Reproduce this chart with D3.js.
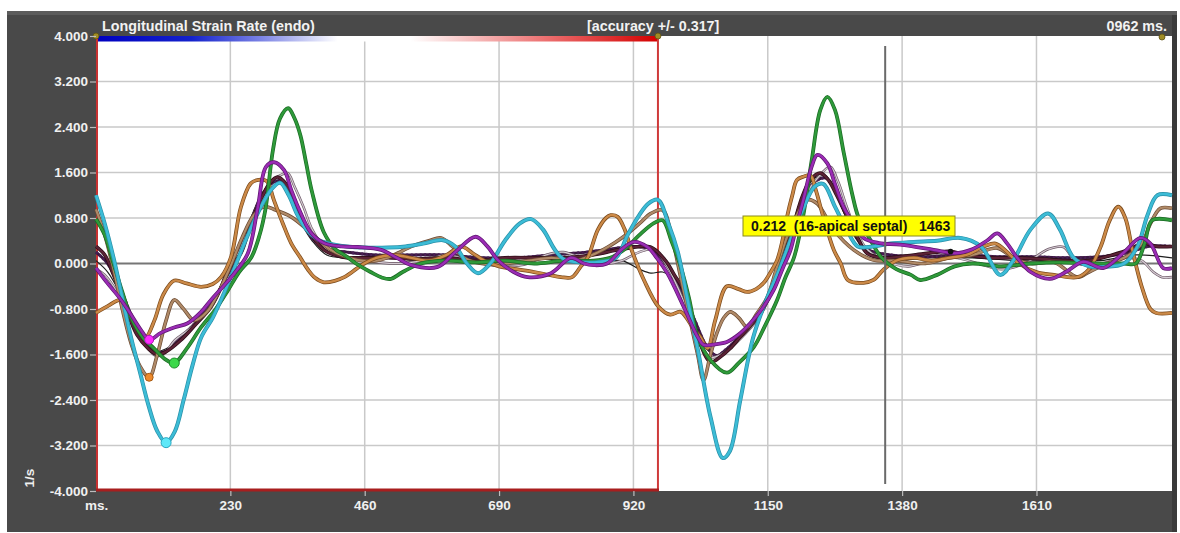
<!DOCTYPE html>
<html>
<head>
<meta charset="utf-8">
<script src="https://cdn.jsdelivr.net/npm/d3@7/dist/d3.min.js"></script>
<style>
  html, body { margin: 0; padding: 0; background: #ffffff; }
  svg { display: block; }
</style>
</head>
<body>
<svg id="chart" width="1180" height="533"></svg>
<script>
// ---- axis ticks ----
const xTicks = [0, 230, 460, 690, 920, 1150, 1380, 1610];
const yTicks = [4, 3.2, 2.4, 1.6, 0.8, 0, -0.8, -1.6, -2.4, -3.2, -4];

// ---- header texts ----
const titleText = "Longitudinal Strain Rate (endo)";
const accuracyText = "[accuracy +/- 0.317]";
const cycleText = "0962 ms.";
const unitText = "1/s";

// ---- cycle / cursor ----
const cycleMs = 962;
const cursorMs = 1351;
const cursorLabel = { value: 0.212, segment: "16-apical septal", ms: 1463 };

// ---- segment traces: [ms, 1/s] ----
const cyanPts = [[0,1.2],[15,0.7],[30,0.1],[45,-0.6],[60,-1.3],[75,-1.9],[90,-2.5],[105,-2.95],[120,-3.15],[135,-2.95],[150,-2.4],[165,-1.8],[180,-1.3],[200,-0.95],[220,-0.5],[240,0.0],[260,0.5],[280,0.95],[300,1.3],[315,1.42],[330,1.2],[345,0.85],[360,0.6],[380,0.42],[400,0.35],[430,0.3],[460,0.28],[500,0.28],[530,0.3],[560,0.35],[594,0.41],[615,0.3],[635,0.0],[654,-0.17],[675,0.0],[700,0.4],[725,0.7],[745,0.78],[765,0.6],[785,0.25],[800,0.08],[830,0.02],[864,0.03],[890,0.1],[910,0.5],[930,0.85],[945,1.05],[962,1.12],[980,0.7],[996,0.2],[1012,-0.6],[1030,-1.5],[1052,-2.7],[1073,-3.42],[1085,-3.3],[1103,-2.4],[1125,-1.3],[1149,-0.6],[1170,-0.1],[1190,0.45],[1210,0.95],[1230,1.35],[1245,1.4],[1265,1.0],[1285,0.6],[1304,0.3],[1330,0.3],[1360,0.35],[1400,0.38],[1440,0.4],[1480,0.45],[1515,0.3],[1548,-0.2],[1570,0.05],[1600,0.6],[1630,0.88],[1650,0.6],[1673,0.11],[1700,-0.05],[1724,-0.06],[1760,0.0],[1783,0.3],[1800,0.85],[1817,1.2],[1842,1.2]];

const greenPts = [[0,0.78],[15,0.5],[30,0.0],[45,-0.5],[60,-0.95],[80,-1.3],[100,-1.5],[118,-1.68],[134,-1.75],[155,-1.5],[180,-1.12],[205,-0.8],[226,-0.47],[245,-0.15],[266,0.11],[280,0.5],[290,0.95],[303,2.0],[315,2.55],[329,2.73],[340,2.55],[350,2.25],[360,1.75],[370,1.25],[390,0.55],[410,0.25],[425,0.15],[445,0.0],[470,-0.15],[490,-0.25],[505,-0.27],[525,-0.15],[556,0.0],[600,0.05],[650,0.02],[700,0.05],[750,0.0],[800,0.05],[850,0.05],[880,0.1],[905,0.25],[930,0.5],[955,0.71],[970,0.76],[985,0.4],[1001,-0.06],[1015,-0.6],[1030,-1.29],[1052,-1.7],[1080,-1.92],[1100,-1.75],[1126,-1.47],[1145,-1.1],[1166,-0.64],[1180,-0.25],[1195,0.11],[1210,0.8],[1225,1.8],[1240,2.7],[1252,2.93],[1265,2.7],[1280,1.95],[1295,1.2],[1305,0.82],[1326,0.41],[1345,0.1],[1370,-0.1],[1395,-0.2],[1411,-0.29],[1440,-0.2],[1470,-0.05],[1500,0.0],[1550,-0.05],[1600,0.0],[1650,0.02],[1700,0.0],[1760,0.0],[1780,0.0],[1795,0.35],[1808,0.76],[1842,0.76]];

const purplePts = [[0,-0.08],[20,-0.35],[40,-0.6],[55,-0.82],[77,-1.17],[91,-1.34],[111,-1.22],[135,-1.12],[157,-1.05],[180,-0.85],[197,-0.64],[218,-0.4],[237,-0.17],[260,0.18],[277,0.99],[291,1.7],[305,1.78],[322,1.64],[334,1.3],[346,0.99],[368,0.54],[390,0.36],[420,0.3],[448,0.29],[488,0.24],[515,0.1],[540,-0.03],[585,-0.06],[615,0.2],[650,0.47],[670,0.3],[688,0.06],[715,-0.15],[739,-0.24],[779,-0.17],[813,0.1],[835,0.0],[853,-0.03],[875,0.0],[900,0.25],[921,0.38],[944,0.29],[960,0.1],[978,-0.17],[1006,-0.76],[1030,-1.29],[1040,-1.43],[1060,-1.42],[1080,-1.38],[1100,-1.25],[1120,-1.05],[1140,-0.8],[1160,-0.47],[1175,-0.1],[1189,0.24],[1200,0.7],[1211,1.12],[1225,1.7],[1235,1.91],[1252,1.76],[1265,1.4],[1280,0.99],[1297,0.7],[1314,0.45],[1340,0.36],[1377,0.33],[1434,0.24],[1470,0.18],[1500,0.25],[1525,0.4],[1543,0.53],[1560,0.35],[1577,0.1],[1600,-0.15],[1633,-0.27],[1660,-0.15],[1690,0.03],[1724,-0.08],[1758,0.18],[1788,0.45],[1805,0.35],[1827,-0.08],[1842,-0.08]];

const tanPts = [[0,-0.87],[20,-0.75],[43,-0.64],[60,-0.95],[75,-1.2],[85,-1.3],[100,-1.0],[115,-0.55],[134,-0.3],[155,-0.35],[180,-0.41],[200,-0.36],[214,-0.24],[231,0.11],[248,0.99],[265,1.41],[278,1.47],[292,1.45],[305,1.1],[320,0.7],[334,0.36],[350,0.1],[363,-0.11],[375,-0.25],[390,-0.33],[410,-0.3],[425,-0.24],[445,-0.1],[459,0.0],[480,0.1],[510,0.15],[540,0.1],[570,0.05],[600,0.15],[625,0.3],[645,0.18],[665,0.05],[690,-0.05],[720,-0.1],[750,-0.15],[775,-0.2],[796,-0.24],[815,-0.24],[830,-0.05],[842,0.11],[859,0.59],[873,0.8],[881,0.85],[893,0.82],[905,0.6],[915,0.29],[938,-0.29],[963,-0.76],[983,-0.9],[1001,-0.85],[1020,-1.1],[1035,-1.3],[1047,-1.49],[1060,-1.0],[1080,-0.4],[1100,-0.45],[1115,-0.5],[1130,-0.45],[1143,-0.34],[1155,-0.15],[1166,0.06],[1175,0.4],[1183,0.82],[1192,1.2],[1200,1.47],[1212,1.53],[1223,1.55],[1232,1.3],[1245,0.82],[1263,0.24],[1275,0.0],[1287,-0.29],[1314,-0.34],[1331,-0.29],[1348,-0.11],[1370,0.05],[1400,0.1],[1430,0.05],[1460,0.1],[1490,0.15],[1520,0.3],[1540,0.35],[1560,0.2],[1580,0.0],[1610,-0.15],[1640,-0.2],[1680,-0.24],[1700,-0.1],[1720,0.3],[1735,0.75],[1750,1.0],[1762,0.8],[1775,0.2],[1790,-0.4],[1805,-0.8],[1815,-0.87],[1842,-0.87]];

const brownPts = [[0,0.95],[15,0.5],[30,-0.1],[45,-0.8],[60,-1.4],[75,-1.8],[91,-2.0],[105,-1.6],[120,-1.0],[134,-0.64],[150,-0.8],[168,-1.0],[190,-0.85],[210,-0.5],[230,-0.05],[250,0.45],[270,0.85],[288,1.0],[305,0.95],[334,0.82],[368,0.54],[402,0.24],[448,0.06],[480,0.05],[510,0.15],[540,0.3],[570,0.4],[591,0.45],[610,0.3],[630,0.1],[660,0.0],[700,0.0],[740,0.05],[780,0.1],[820,0.05],[860,0.2],[900,0.45],[930,0.7],[950,0.88],[970,0.94],[985,0.5],[1000,-0.2],[1015,-0.9],[1030,-1.6],[1040,-2.05],[1052,-1.6],[1063,-1.22],[1075,-0.95],[1086,-0.85],[1100,-0.95],[1115,-1.12],[1130,-0.9],[1149,-0.6],[1166,-0.05],[1183,0.47],[1200,0.85],[1218,1.12],[1235,1.05],[1263,0.59],[1297,0.24],[1331,0.06],[1370,0.05],[1420,0.0],[1460,0.1],[1500,0.15],[1543,0.27],[1570,0.1],[1600,0.0],[1640,0.02],[1680,-0.24],[1700,-0.15],[1730,0.0],[1760,0.1],[1790,0.35],[1805,0.7],[1822,0.97],[1842,0.97]];

const maroonPts = [[0,0.3],[15,0.15],[30,-0.2],[50,-0.75],[70,-1.25],[90,-1.5],[105,-1.6],[120,-1.55],[145,-1.35],[168,-1.1],[197,-0.76],[215,-0.4],[226,-0.11],[248,0.18],[265,0.7],[282,1.12],[298,1.42],[311,1.52],[325,1.4],[338,1.1],[352,0.8],[368,0.52],[390,0.24],[419,0.12],[450,0.1],[500,0.1],[550,0.08],[600,0.1],[650,0.05],[700,0.1],[750,0.1],[800,0.1],[850,0.15],[900,0.25],[949,0.29],[975,0.05],[990,-0.2],[1006,-0.47],[1030,-1.29],[1052,-1.73],[1069,-1.64],[1085,-1.5],[1103,-1.29],[1120,-1.1],[1138,-0.87],[1155,-0.5],[1172,-0.06],[1195,0.71],[1210,1.2],[1223,1.47],[1240,1.59],[1255,1.45],[1268,1.2],[1280,0.95],[1304,0.45],[1320,0.18],[1348,0.1],[1400,0.15],[1440,0.2],[1463,0.212],[1490,0.15],[1530,0.1],[1570,0.1],[1620,0.08],[1660,0.05],[1700,0.05],[1740,0.15],[1770,0.25],[1793,0.36],[1815,0.3],[1842,0.3]];

const mauvePts = [[0,-0.1],[15,-0.2],[30,-0.4],[50,-0.75],[70,-1.2],[90,-1.5],[102,-1.62],[115,-1.6],[135,-1.35],[160,-1.15],[185,-0.9],[205,-0.6],[225,-0.15],[245,0.2],[262,0.65],[280,1.1],[300,1.45],[315,1.55],[328,1.59],[340,1.35],[355,1.0],[370,0.6],[390,0.3],[420,0.12],[460,0.05],[510,0.0],[560,0.05],[600,0.15],[625,0.1],[660,0.0],[700,-0.05],[740,0.0],[770,0.15],[800,0.2],[830,0.1],[870,0.0],[900,0.05],[930,0.2],[955,0.25],[975,0.0],[995,-0.4],[1015,-0.9],[1035,-1.45],[1052,-1.65],[1070,-1.6],[1090,-1.45],[1110,-1.25],[1135,-0.95],[1155,-0.55],[1175,0.0],[1195,0.6],[1215,1.2],[1235,1.5],[1257,1.7],[1270,1.45],[1285,1.0],[1300,0.6],[1320,0.25],[1350,0.05],[1390,-0.05],[1430,0.05],[1470,0.1],[1510,0.0],[1550,-0.1],[1590,0.0],[1630,0.25],[1656,0.29],[1680,0.0],[1720,0.0],[1760,0.1],[1790,0.05],[1810,-0.15],[1825,-0.24],[1842,-0.24]];

const blackPts = [[0,0.05],[20,-0.15],[40,-0.5],[60,-0.95],[80,-1.35],[100,-1.55],[120,-1.5],[145,-1.3],[170,-1.05],[200,-0.7],[222,-0.2],[245,0.25],[265,0.8],[285,1.25],[305,1.45],[320,1.4],[335,1.1],[352,0.7],[370,0.4],[395,0.15],[430,0.1],[500,0.1],[560,0.05],[620,0.1],[680,0.05],[740,0.1],[800,0.05],[850,0.0],[900,0.05],[930,-0.1],[950,-0.17],[970,-0.15],[990,-0.3],[1010,-0.7],[1030,-1.25],[1050,-1.55],[1070,-1.6],[1095,-1.4],[1120,-1.05],[1145,-0.75],[1165,-0.2],[1190,0.6],[1210,1.2],[1230,1.5],[1248,1.55],[1262,1.35],[1280,0.9],[1300,0.45],[1325,0.15],[1360,0.05],[1420,0.1],[1500,0.1],[1580,0.05],[1660,0.05],[1720,0.05],[1780,0.15],[1842,0.1]];

const plumPts = [[0,0.2],[20,0.0],[40,-0.4],[60,-0.9],[80,-1.3],[100,-1.55],[118,-1.55],[140,-1.35],[165,-1.1],[195,-0.75],[220,-0.3],[245,0.2],[265,0.75],[285,1.2],[302,1.42],[318,1.45],[332,1.2],[350,0.8],[370,0.45],[395,0.25],[430,0.2],[480,0.15],[540,0.15],[600,0.15],[660,0.1],[720,0.1],[780,0.15],[840,0.2],[880,0.25],[920,0.3],[950,0.25],[975,0.0],[1000,-0.4],[1025,-1.0],[1045,-1.45],[1062,-1.62],[1080,-1.5],[1100,-1.3],[1125,-1.0],[1150,-0.65],[1170,-0.1],[1192,0.55],[1212,1.15],[1232,1.45],[1250,1.5],[1265,1.3],[1282,0.9],[1300,0.5],[1320,0.25],[1360,0.15],[1420,0.12],[1480,0.15],[1540,0.12],[1600,0.12],[1660,0.1],[1720,0.12],[1770,0.2],[1800,0.3],[1842,0.3]];

// ---- marked extremes (series key, time) ----
const extremeMarks = [
  { key: "brown", ms: 91 },
  { key: "purple", ms: 91 },
  { key: "cyan", ms: 120 },
  { key: "green", ms: 134 }
];

// ---- drawing ----
const plot = { left: 96, right: 1172, top: 36, bottom: 491 };

const svg = d3.select("#chart");
const fontFamily = "'Liberation Sans', Arial, sans-serif";

const x = d3.scaleLinear().domain([0, 1842]).range([plot.left, plot.right]);
const y = d3.scaleLinear().domain([-4, 4]).range([plot.bottom, plot.top]);

// dark frame
svg.append("rect").attr("x", 7).attr("y", 11).attr("width", 1170).attr("height", 521).attr("fill", "#494949");
svg.append("rect").attr("x", 7).attr("y", 11).attr("width", 1170).attr("height", 4).attr("fill", "#5c5c5c");
svg.append("rect").attr("x", plot.right).attr("y", 15).attr("width", 5).attr("height", 517).attr("fill", "#3a3a3a");

// plot background
svg.append("rect")
  .attr("x", plot.left).attr("y", plot.top)
  .attr("width", plot.right - plot.left).attr("height", plot.bottom - plot.top)
  .attr("fill", "#ffffff");

// grid
const grid = svg.append("g");
grid.selectAll("line.v").data(xTicks.filter(d => d > 0)).join("line")
  .attr("x1", d => x(d)).attr("x2", d => x(d))
  .attr("y1", plot.top).attr("y2", plot.bottom)
  .attr("stroke", "#c9c9c9").attr("stroke-width", 1.5);
grid.selectAll("line.h").data(yTicks.filter(d => Math.abs(d) < 4 && d !== 0)).join("line")
  .attr("x1", plot.left).attr("x2", plot.right)
  .attr("y1", d => y(d)).attr("y2", d => y(d))
  .attr("stroke", "#c9c9c9").attr("stroke-width", 1.5);
grid.append("line")
  .attr("x1", plot.left).attr("x2", plot.right)
  .attr("y1", y(0)).attr("y2", y(0))
  .attr("stroke", "#767676").attr("stroke-width", 2);

// cycle gradient bar
const defs = svg.append("defs");
const grad = defs.append("linearGradient").attr("id", "cycleGrad").attr("x1", "0%").attr("x2", "100%");
grad.append("stop").attr("offset", "0%").attr("stop-color", "#0000c0");
grad.append("stop").attr("offset", "17%").attr("stop-color", "#1422cc");
grad.append("stop").attr("offset", "29%").attr("stop-color", "#7880e4");
grad.append("stop").attr("offset", "43%").attr("stop-color", "#ffffff");
grad.append("stop").attr("offset", "56%").attr("stop-color", "#ffffff");
grad.append("stop").attr("offset", "80%").attr("stop-color", "#ec7070");
grad.append("stop").attr("offset", "100%").attr("stop-color", "#d40000");
svg.append("rect")
  .attr("x", x(0)).attr("y", plot.top)
  .attr("width", x(cycleMs) - x(0)).attr("height", 5.5)
  .attr("fill", "url(#cycleGrad)");

// cycle box
svg.append("line").attr("x1", x(0) + 1).attr("x2", x(0) + 1).attr("y1", plot.top).attr("y2", plot.bottom)
  .attr("stroke", "#c83232").attr("stroke-width", 2);
svg.append("line").attr("x1", x(cycleMs)).attr("x2", x(cycleMs)).attr("y1", plot.top + 3).attr("y2", plot.bottom)
  .attr("stroke", "#cf3a3a").attr("stroke-width", 2);
svg.append("line").attr("x1", x(0)).attr("x2", x(cycleMs) + 1).attr("y1", plot.bottom - 1).attr("y2", plot.bottom - 1)
  .attr("stroke", "#a81e1e").attr("stroke-width", 3);

// traces
const seriesStyle = [
  { key: "black",  pts: blackPts,  edge: null,      color: "#1e1e1e", width: 1.2 },
  { key: "plum",   pts: plumPts,   edge: "#3a1840", color: "#7a3c86", width: 1.6, dash: "2,2.5" },
  { key: "mauve",  pts: mauvePts,  edge: "#6e5a68", color: "#d6cdd4", width: 1.2 },
  { key: "maroon", pts: maroonPts, edge: "#2a0c14", color: "#5c2236", width: 2.2 },
  { key: "brown",  pts: brownPts,  edge: "#6a4a32", color: "#b08a68", width: 2.2 },
  { key: "tan",    pts: tanPts,    edge: "#7a4a1c", color: "#cc8a48", width: 2.4 },
  { key: "green",  pts: greenPts,  edge: "#1a6a24", color: "#2f9a3a", width: 2.4 },
  { key: "cyan",   pts: cyanPts,   edge: "#2a90a8", color: "#3cbcd6", width: 2.6 },
  { key: "purple", pts: purplePts, edge: "#5e1670", color: "#9a2cb4", width: 2.4 }
];
const lineGen = d3.line().x(d => x(d[0])).y(d => y(d[1])).curve(d3.curveCatmullRom.alpha(0.5));
const traces = svg.append("g");
seriesStyle.forEach(s => {
  if (s.edge) {
    traces.append("path").attr("d", lineGen(s.pts)).attr("fill", "none")
      .attr("stroke", s.edge).attr("stroke-width", s.width + 1.4).attr("stroke-linejoin", "round");
  }
  const p = traces.append("path").attr("d", lineGen(s.pts)).attr("fill", "none")
    .attr("stroke", s.color).attr("stroke-width", s.width).attr("stroke-linejoin", "round");
  if (s.dash) p.attr("stroke-dasharray", s.dash).attr("stroke-width", s.width + 1.4).attr("stroke", "#4a1e54");
});

// marked extremes
const markStyle = {
  brown:  { fill: "#ee8a2c", stroke: "#a85a10", r: 4 },
  purple: { fill: "#ff2cff", stroke: "#a818b0", r: 4.5 },
  cyan:   { fill: "#5ee8f8", stroke: "#2aa6c0", r: 5 },
  green:  { fill: "#3cd84a", stroke: "#1c8a28", r: 5 }
};
const byKey = Object.fromEntries(seriesStyle.map(s => [s.key, s.pts]));
svg.append("g").selectAll("circle").data(extremeMarks).join("circle")
  .attr("cx", d => x(d.ms))
  .attr("cy", d => y(byKey[d.key].find(p => p[0] === d.ms)[1]))
  .attr("r", d => markStyle[d.key].r)
  .attr("fill", d => markStyle[d.key].fill)
  .attr("stroke", d => markStyle[d.key].stroke).attr("stroke-width", 1);

// cursor
svg.append("line")
  .attr("x1", x(cursorMs)).attr("x2", x(cursorMs))
  .attr("y1", 46).attr("y2", 484)
  .attr("stroke", "#6a6a6a").attr("stroke-width", 2);

// selected point
svg.append("circle")
  .attr("cx", x(cursorLabel.ms)).attr("cy", y(cursorLabel.value))
  .attr("r", 2.8).attr("fill", "#111111");

// readout box
const box = svg.append("g").attr("transform", "translate(743,216)");
box.append("rect").attr("width", 212).attr("height", 20)
  .attr("fill", "#ffff00").attr("stroke", "#8a8a20").attr("stroke-width", 1);
box.append("text").attr("x", 8).attr("y", 15)
  .attr("font-family", fontFamily).attr("font-weight", "bold").attr("font-size", 14)
  .attr("fill", "#111111")
  .style("white-space", "pre")
  .text(cursorLabel.value.toFixed(3) + "  (" + cursorLabel.segment + ")   " + cursorLabel.ms);

// corner knobs
const knobs = [[x(0), plot.top], [x(cycleMs), plot.top], [1162, plot.top + 1]];
svg.append("g").selectAll("circle").data(knobs).join("circle")
  .attr("cx", d => d[0]).attr("cy", d => d[1]).attr("r", 3)
  .attr("fill", "#a08c24").attr("stroke", "#5e5010").attr("stroke-width", 0.8);

// axes
const fmt = v => (v < 0 ? "-" : "") + Math.abs(v).toFixed(3);
const yAxis = svg.append("g").attr("transform", `translate(${plot.left},0)`)
  .call(d3.axisLeft(y).tickValues(yTicks).tickFormat(fmt).tickSize(6).tickPadding(2));
const xAxis = svg.append("g").attr("transform", `translate(0,${plot.bottom})`)
  .call(d3.axisBottom(x).tickValues(xTicks).tickFormat(d => d === 0 ? "ms." : String(d)).tickSize(5).tickPadding(4));
[yAxis, xAxis].forEach(a => {
  a.select(".domain").remove();
  a.selectAll(".tick line").attr("stroke", "#bdbdbd").attr("stroke-width", 1.2);
  a.selectAll(".tick text")
    .attr("fill", "#f0f0f0").attr("font-family", fontFamily)
    .attr("font-weight", "bold").attr("font-size", 13.5);
});
xAxis.selectAll(".tick").filter(d => d === 0).select("line").remove();

// header
const header = svg.append("g")
  .attr("font-family", fontFamily).attr("font-weight", "bold").attr("font-size", 14.3).attr("fill", "#f2f2f2");
header.append("text").attr("x", 102).attr("y", 31).text(titleText);
header.append("text").attr("x", 587).attr("y", 31).text(accuracyText);
header.append("text").attr("x", 1167).attr("y", 31).attr("text-anchor", "end").text(cycleText);

// unit label
svg.append("text")
  .attr("transform", "translate(34,478) rotate(-90)")
  .attr("text-anchor", "middle")
  .attr("font-family", fontFamily).attr("font-weight", "bold").attr("font-size", 13.5)
  .attr("fill", "#f0f0f0").text(unitText);
</script>
</body>
</html>
